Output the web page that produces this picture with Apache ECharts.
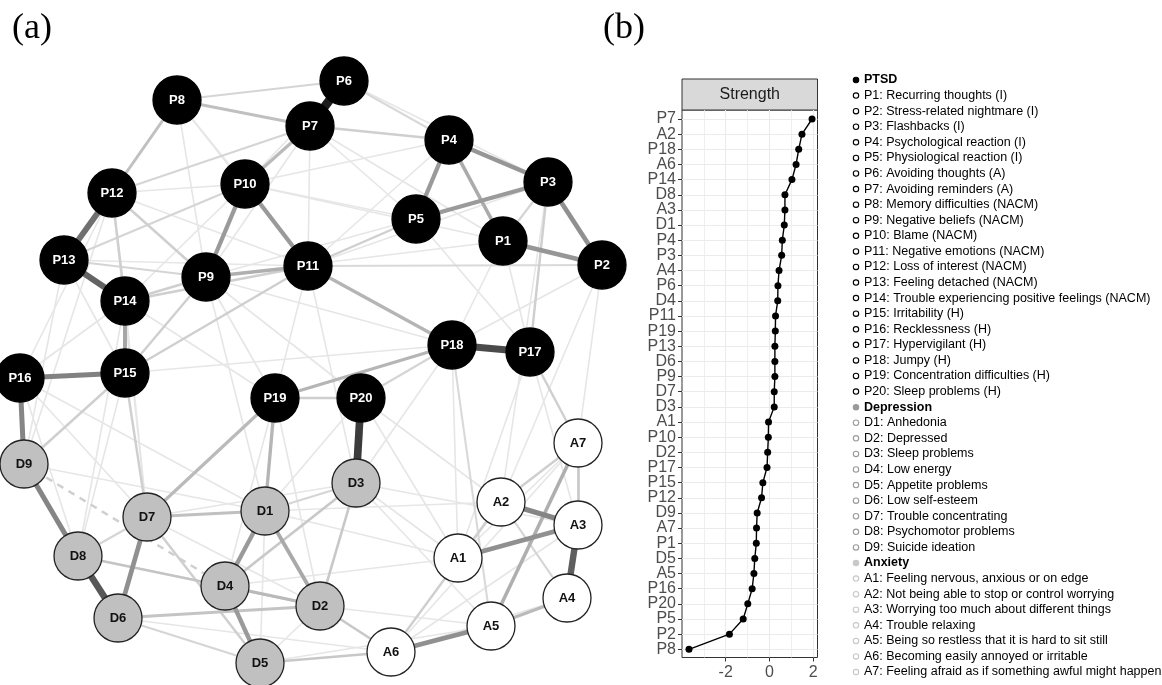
<!DOCTYPE html>
<html><head><meta charset="utf-8">
<script src="https://cdn.jsdelivr.net/npm/echarts@6.0.0/dist/echarts.min.js"></script>
<style>html,body{margin:0;padding:0;background:#fff}#chart{width:1162px;height:685px}</style>
</head><body><div id="chart"></div>
<script>
// ---------------- DATA ----------------
// Network nodes and their layout coordinates (layout units)
const nodeNames = ['P1','P2','P3','P4','P5','P6','P7','P8','P9','P10','P11','P12','P13','P14','P15','P16','P17','P18','P19','P20',
  'D1','D2','D3','D4','D5','D6','D7','D8','D9','A1','A2','A3','A4','A5','A6','A7'];
const layoutX = [503,602,548,449,416,344,310,177,206,245,308,112,64,125,125,20,530,452,275,361,
  265,320,356,225,260,118,147,78,24,458,501,578,567,491,391,578];
const layoutY = [241,265,182,140,219,81,126,100,277,184,266,193,260,301,373,378,352,345,398,398,
  511,606,483,586,663,618,517,556,464,558,502,525,598,626,652,443];
// Edges: [source, target, weight] (negative = dashed)
const visibleEdges = [
  ['P6','P7',1.0],['P20','D3',0.85],['P18','P17',0.78],['D8','D6',0.72],['A3','A4',0.68],['P13','P14',0.66],
  ['P12','P13',0.6],['P16','P15',0.52],['D9','D8',0.5],['P16','D9',0.5],['A2','A3',0.5],['A1','A3',0.45],
  ['D7','D6',0.45],['A6','A5',0.45],['P3','P2',0.45],['P4','P3',0.42],['P1','P2',0.42],['P4','P5',0.4],
  ['P5','P3',0.4],['P10','P9',0.4],['P10','P11',0.4],['D1','D4',0.4],['D4','D5',0.4],['P14','P15',0.35],
  ['D1','D2',0.33],['P4','P1',0.32],['P9','P11',0.3],['A7','A5',0.3],['P11','P18',0.27],['P19','P18',0.27],
  ['P19','D1',0.27],['P19','D7',0.25],['P7','P10',0.25],['A5','A4',0.25],['D4','D2',0.25],['P8','P12',0.22],
  ['P8','P7',0.22],['D7','D1',0.22],['D6','D2',0.2],['D8','D2',0.2],['D3','D4',0.18],['D3','D2',0.18],
  ['D2','A6',0.18],['D5','A6',0.18],['A7','A3',0.18],['A2','A7',0.15],['A2','A6',0.15],['P17','A7',0.15],
  ['P3','P17',0.15],['P15','D7',0.15],['P15','D9',0.15],['P15','P9',0.15],['P15','P11',0.15],['P14','P9',0.15],
  ['P14','P11',0.15],['P12','P14',0.15],['P12','P9',0.15],['P12','P7',0.12],['P13','P10',0.12],['P13','P9',0.12],
  ['P11','P5',0.15],['P11','P2',0.1],['P8','P6',0.12],['P7','P4',0.15],['P6','P4',0.1],['P19','P20',0.15],
  ['P20','P18',0.12],['D7','D8',0.12],['D7','D5',0.15],['D3','D1',0.12],['D6','D5',0.12],['A2','A4',0.12],
  ['A5','P18',0.1],['P3','P1',0.12],['D9','D4',-0.15]
];
const faintEdges = [
  ['P8','P10'],['P8','P9'],['P8','P11'],['P8','P13'],['P12','P11'],['P12','P10'],['P13','P11'],['P13','P15'],
  ['P13','D9'],['P14','P10'],['P14','D7'],['P14','D8'],['P14','P19'],['P9','P19'],['P9','D1'],['P10','P5'],
  ['P10','P4'],['P7','P5'],['P7','P1'],['P7','P11'],['P7','P9'],['P6','P10'],['P6','P3'],['P11','P3'],
  ['P11','P19'],['P11','D3'],['P9','P18'],['P5','P17'],['P1','P17'],['P1','P18'],['P2','P18'],['P2','A2'],
  ['P3','A2'],['P17','A3'],['P17','A1'],['P18','A1'],['P18','D3'],['P20','A2'],['P20','D1'],['P19','D4'],
  ['P19','D2'],['P15','D8'],['P16','D7'],['P16','D8'],['D9','D1'],['D9','D6'],['D7','D2'],['D7','D3'],
  ['D1','A1'],['D1','A2'],['D3','A1'],['D3','A5'],['D3','A3'],['D4','A1'],['D5','A5'],['D6','A6'],
  ['D8','D4'],['D2','A5'],['A1','A7'],['A1','A2'],['A6','A4'],['A6','A3'],['A6','A7'],['D5','D2'],
  ['D1','D5'],['P12','D9'],['P12','D7'],['P16','D1'],['P5','P9'],['P1','P9'],['P2','A7'],['P15','P18'],
  ['P20','A1'],['P16','P14'],['P16','P12'],['P9','P20'],['P10','P1'],['P4','P11']
];
const faintWeight = 0.04;

// Strength centrality (panel b)
const strengthNodes = ['P7','A2','P18','A6','P14','D8','A3','D1','P4','P3','A4','P6','D4','P11','P19','P13','D6','P9',
  'D7','D3','A1','P10','D2','P17','P15','P12','D9','A7','P1','D5','A5','P16','P20','P5','P2','P8'];
const strengthValues = [1.95,1.49,1.34,1.22,1.03,0.71,0.71,0.68,0.59,0.56,0.44,0.39,0.38,0.28,0.27,0.25,0.25,0.25,
  0.22,0.22,-0.04,-0.05,-0.08,-0.11,-0.30,-0.36,-0.56,-0.59,-0.60,-0.67,-0.71,-0.79,-0.99,-1.20,-1.83,-3.68];
const xTickValues = [-2, 0, 2];

// Legend texts
const ptsdLabels = ['P1: Recurring thoughts (I)','P2: Stress-related nightmare (I)','P3: Flashbacks (I)',
  'P4: Psychological reaction (I)','P5: Physiological reaction (I)','P6: Avoiding thoughts (A)','P7: Avoiding reminders (A)',
  'P8: Memory difficulties (NACM)','P9: Negative beliefs (NACM)','P10: Blame (NACM)','P11: Negative emotions (NACM)',
  'P12: Loss of interest (NACM)','P13: Feeling detached (NACM)','P14: Trouble experiencing positive feelings (NACM)',
  'P15: Irritability (H)','P16: Recklessness (H)','P17: Hypervigilant (H)','P18: Jumpy (H)',
  'P19: Concentration difficulties (H)','P20: Sleep problems (H)'];
const depressionLabels = ['D1: Anhedonia','D2: Depressed','D3: Sleep problems','D4: Low energy','D5: Appetite problems',
  'D6: Low self-esteem','D7: Trouble concentrating','D8: Psychomotor problems','D9: Suicide ideation'];
const anxietyLabels = ['A1: Feeling nervous, anxious or on edge','A2: Not being able to stop or control worrying',
  'A3: Worrying too much about different things','A4: Trouble relaxing','A5: Being so restless that it is hard to sit still',
  'A6: Becoming easily annoyed or irritable','A7: Feeling afraid as if something awful might happen'];
const groupTitles = ['PTSD','Depression','Anxiety'];

// ---------------- BUILD ----------------
const nodeStyle = {
  P: {fill:'#000000', text:'#ffffff', border:'#000000'},
  D: {fill:'#c0c0c0', text:'#111111', border:'#222222'},
  A: {fill:'#ffffff', text:'#111111', border:'#222222'}
};
const graphNodes = nodeNames.map((n, i) => {
  const s = nodeStyle[n[0]];
  return {
    name: n, value: [layoutX[i], layoutY[i]],
    itemStyle: {color: s.fill, borderColor: s.border, borderWidth: 1.3},
    label: {color: s.text}
  };
});
function edgeStyle(w) {
  const a = Math.abs(w);
  const g = Math.round(238 - a * 210);
  return {color: `rgb(${g},${g},${g})`, width: 1.3 + a * 7.5, opacity: 1, type: w < 0 ? [7, 6] : 'solid', curveness: 0};
}
const allEdges = visibleEdges.concat(faintEdges.map(e => [e[0], e[1], faintWeight]))
  .sort((a, b) => Math.abs(a[2]) - Math.abs(b[2]));
const graphLinks = allEdges.map(e => ({source: e[0], target: e[1], value: e[2], lineStyle: edgeStyle(e[2])}));

// legend graphic
const legendColors = {P: '#000000', D: '#9a9a9a', A: '#c8c8c8'};
const legendRows = [];
[[groupTitles[0], ptsdLabels, 'P'], [groupTitles[1], depressionLabels, 'D'], [groupTitles[2], anxietyLabels, 'A']]
  .forEach(([title, items, g]) => {
    legendRows.push({text: title, header: true, g});
    items.forEach(t => legendRows.push({text: t, header: false, g}));
  });
const legendTop = 80, legendStep = 15.58, legendBulletX = 856, legendTextX = 864;
const legendGraphics = [];
legendRows.forEach((r, i) => {
  const y = legendTop + i * legendStep;
  const c = legendColors[r.g];
  legendGraphics.push({type: 'circle', shape: {cx: legendBulletX, cy: y, r: 2.7},
    style: {fill: r.header ? c : '#ffffff', stroke: c, lineWidth: 1.1}, silent: true});
  legendGraphics.push({type: 'text', x: legendTextX, y: y,
    style: {text: r.text, font: (r.header ? 'bold ' : '') + '12.5px Arial, "Liberation Sans", sans-serif',
      fill: '#000', align: 'left', verticalAlign: 'middle'}, silent: true});
});

const panelLeft = 682, panelWidth = 135.5, panelTop = 110, panelHeight = 547.5;
const rowTop = 119, rowHeight = 530.3;

const option = {
  animation: false,
  backgroundColor: '#ffffff',
  grid: [
    {left: panelLeft, top: panelTop, width: panelWidth, height: panelHeight, show: true,
      borderColor: '#333333', borderWidth: 1, backgroundColor: 'transparent', containLabel: false, outerBoundsMode: 'none'},
    {left: panelLeft, top: rowTop, width: panelWidth, height: rowHeight, containLabel: false, outerBoundsMode: 'none'},
    {left: 0, top: 0, width: 1162, height: 685, containLabel: false, outerBoundsMode: 'none'}
  ],
  xAxis: [
    {gridIndex: 0, type: 'value', min: -4, max: 2.2, interval: 2, position: 'bottom',
      axisLine: {show: false, onZero: false},
      axisTick: {show: true, length: 4, inside: false, customValues: xTickValues, lineStyle: {color: '#333333', width: 1}},
      axisLabel: {show: true, customValues: xTickValues, margin: 7,
        fontSize: 16, color: '#4d4d4d', fontFamily: 'Arial, "Liberation Sans", sans-serif'},
      splitLine: {show: true, lineStyle: {color: '#ebebeb', width: 1.1}},
      minorTick: {show: false, splitNumber: 2},
      minorSplitLine: {show: true, lineStyle: {color: '#ebebeb', width: 0.8}}},
    {gridIndex: 1, type: 'value', min: -4, max: 2.2, show: false},
    {gridIndex: 2, type: 'value', min: 0, max: 1162, show: false}
  ],
  yAxis: [
    {gridIndex: 0, type: 'value', min: 0, max: 1, show: false},
    {gridIndex: 1, type: 'category', data: strengthNodes, inverse: true, boundaryGap: false, position: 'left',
      axisLine: {show: false, onZero: false},
      axisTick: {show: true, length: 4, inside: false, interval: 0, lineStyle: {color: '#333333', width: 1}},
      axisLabel: {show: true, interval: 0, margin: 6, fontSize: 16, color: '#4d4d4d',
        fontFamily: 'Arial, "Liberation Sans", sans-serif'},
      splitLine: {show: true, interval: 0, lineStyle: {color: '#ebebeb', width: 1.1}}},
    {gridIndex: 2, type: 'value', min: 0, max: 685, inverse: true, show: false}
  ],
  graphic: [
    {type: 'text', x: 12, y: 29, style: {text: '(a)', font: '36px "Liberation Serif", "Times New Roman", serif',
      fill: '#000', align: 'left', verticalAlign: 'middle'}},
    {type: 'text', x: 603, y: 29, style: {text: '(b)', font: '36px "Liberation Serif", "Times New Roman", serif',
      fill: '#000', align: 'left', verticalAlign: 'middle'}},
    {type: 'rect', shape: {x: panelLeft, y: 79, width: panelWidth, height: 31},
      style: {fill: '#d9d9d9', stroke: '#333333', lineWidth: 1}},
    {type: 'text', x: panelLeft + panelWidth / 2, y: 95, style: {text: 'Strength',
      font: '16px Arial, "Liberation Sans", sans-serif', fill: '#1a1a1a', align: 'center', verticalAlign: 'middle'}}
  ].concat(legendGraphics),
  series: [
    {type: 'graph', coordinateSystem: 'cartesian2d', xAxisIndex: 2, yAxisIndex: 2, layout: 'none',
      symbol: 'circle', symbolSize: 48, roam: false, edgeSymbol: ['none', 'none'],
      label: {show: true, position: 'inside', fontSize: 13, fontWeight: 'bold',
        fontFamily: 'Arial, "Liberation Sans", sans-serif'},
      emphasis: {disabled: true},
      data: graphNodes, links: graphLinks, z: 2},
    {type: 'line', xAxisIndex: 1, yAxisIndex: 1,
      data: strengthValues.map((v, i) => [v, strengthNodes[i]]),
      symbol: 'circle', symbolSize: 7, showSymbol: true,
      itemStyle: {color: '#000000'}, lineStyle: {color: '#000000', width: 1.4},
      emphasis: {disabled: true}, z: 3}
  ]
};
const chart = echarts.init(document.getElementById('chart'), null, {renderer: 'canvas'});
chart.setOption(option);
</script></body></html>
